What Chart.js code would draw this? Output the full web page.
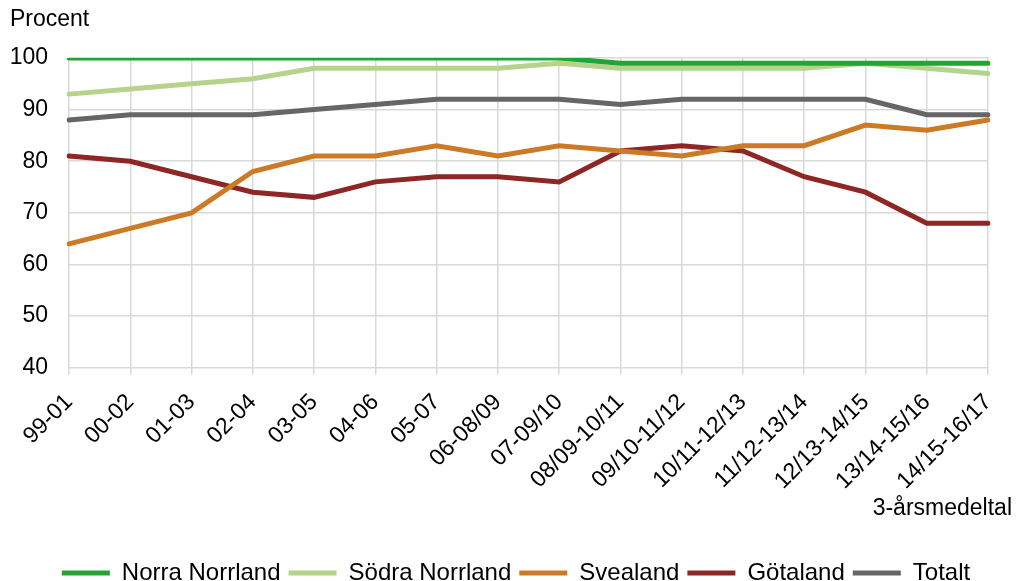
<!DOCTYPE html>
<html>
<head>
<meta charset="utf-8">
<script src="https://cdn.jsdelivr.net/npm/chart.js@4/dist/chart.umd.min.js"></script>
<style>
  html, body { margin: 0; padding: 0; background: #fff; }
  #wrap { width: 1016px; height: 581px; }
</style>
</head>
<body>
<div id="wrap"><canvas id="chart"></canvas></div>
<script>
const labels = ['99-01', '00-02', '01-03', '02-04', '03-05', '04-06', '05-07', '06-08/09', '07-09/10',
  '08/09-10/11', '09/10-11/12', '10/11-12/13', '11/12-13/14', '12/13-14/15', '13/14-15/16', '14/15-16/17'];
const norraNorrland = [100, 100, 100, 100, 100, 100, 100, 100, 100, 99, 99, 99, 99, 99, 99, 99];
const sodraNorrland = [93, 94, 95, 96, 98, 98, 98, 98, 99, 98, 98, 98, 98, 99, 98, 97];
const svealand = [64, 67, 70, 78, 81, 81, 83, 81, 83, 82, 81, 83, 83, 87, 86, 88];
const gotaland = [81, 80, 77, 74, 73, 76, 77, 77, 76, 82, 83, 82, 77, 74, 68, 68];
const totalt = [88, 89, 89, 89, 90, 91, 92, 92, 92, 91, 92, 92, 92, 92, 89, 89];
const yTicks = [40, 50, 60, 70, 80, 90, 100];

const family = '"Liberation Sans", Arial, sans-serif';
const font = { family: family, size: 23, weight: 'normal' };

function line(label, data, color) {
  return {
    label: label,
    data: data,
    borderColor: color,
    backgroundColor: color,
    borderWidth: 5,
    pointRadius: 0,
    tension: 0,
    borderCapStyle: 'round'
  };
}

// "Procent" top left and the x axis note under the labels
const notes = {
  id: 'notes',
  afterLayout(chart) {
    // center the legend on the whole canvas
    chart.legend.left += 17;
    chart.legend.right += 17;
  },
  afterDraw(chart) {
    const ctx = chart.ctx;
    const x = chart.scales.x;
    ctx.save();
    ctx.font = '23px ' + family;
    ctx.fillStyle = '#000';
    ctx.textBaseline = 'middle';
    ctx.textAlign = 'left';
    ctx.fillText('Procent', 10, 20);
    ctx.textAlign = 'right';
    ctx.fillText('3-årsmedeltal', 1012, x.bottom - 44);
    ctx.restore();
  }
};

Chart.defaults.font = font;
Chart.defaults.color = '#000';

new Chart(document.getElementById('chart'), {
  type: 'line',
  data: {
    labels: labels,
    datasets: [
      line('Norra Norrland', norraNorrland, '#22a535'),
      line('Södra Norrland', sodraNorrland, '#b6d28b'),
      line('Svealand', svealand, '#cc7a25'),
      line('Götaland', gotaland, '#8e2626'),
      line('Totalt', totalt, '#666666')
    ]
  },
  options: {
    responsive: true,
    maintainAspectRatio: false,
    animation: false,
    layout: { padding: { left: 10, right: 28, top: 58, bottom: -14 } },
    plugins: {
      title: { display: false },
      legend: {
        position: 'bottom',
        labels: {
          usePointStyle: true,
          pointStyle: 'line',
          pointStyleWidth: 48,
          boxHeight: 5,
          padding: 8,
          font: { family: family, size: 24 },
          color: '#000'
        }
      },
      tooltip: { enabled: false }
    },
    scales: {
      x: {
        grid: { color: '#d9d9d9', lineWidth: 1.5, tickLength: 7 },
        border: { display: false },
        ticks: { minRotation: 45, maxRotation: 45, autoSkip: false, padding: 14, font: font, color: '#000' },
        afterFit(scale) {
          scale.height += 44;
          scale.paddingLeft = 0;
          scale.paddingRight = 0;
        }
      },
      y: {
        min: 40,
        max: 100,
        afterBuildTicks(scale) { scale.ticks = yTicks.map(v => ({ value: v })); },
        grid: { color: '#d9d9d9', lineWidth: 1.5, drawTicks: false },
        border: { display: false },
        ticks: { padding: 21, font: font, color: '#000' },
        afterFit(scale) { scale.width = 59; }
      }
    }
  },
  plugins: [notes]
});
</script>
</body>
</html>
